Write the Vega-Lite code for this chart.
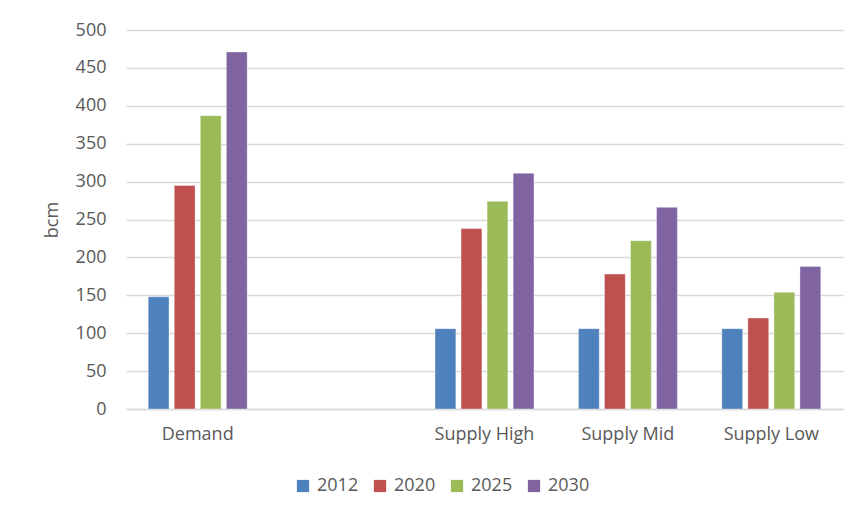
{
  "$schema": "https://vega.github.io/schema/vega-lite/v6.json",
  "autosize": {"type": "none"},
  "width": 717,
  "height": 379,
  "padding": {"left": 126, "top": 30, "right": 15, "bottom": 108},
  "background": "white",
  "data": {
    "values": [
      {"category": "Demand", "year": "2012", "bcm": 148},
      {"category": "Demand", "year": "2020", "bcm": 295},
      {"category": "Demand", "year": "2025", "bcm": 387},
      {"category": "Demand", "year": "2030", "bcm": 471},
      {"category": "Supply High", "year": "2012", "bcm": 106},
      {"category": "Supply High", "year": "2020", "bcm": 238},
      {"category": "Supply High", "year": "2025", "bcm": 274},
      {"category": "Supply High", "year": "2030", "bcm": 311},
      {"category": "Supply Mid", "year": "2012", "bcm": 106},
      {"category": "Supply Mid", "year": "2020", "bcm": 178},
      {"category": "Supply Mid", "year": "2025", "bcm": 222},
      {"category": "Supply Mid", "year": "2030", "bcm": 266},
      {"category": "Supply Low", "year": "2012", "bcm": 106},
      {"category": "Supply Low", "year": "2020", "bcm": 120},
      {"category": "Supply Low", "year": "2025", "bcm": 154},
      {"category": "Supply Low", "year": "2030", "bcm": 188}
    ]
  },
  "mark": {"type": "bar", "stroke": "white", "strokeWidth": 0.6, "strokeOpacity": 0.6},
  "encoding": {
    "x": {
      "field": "category",
      "type": "nominal",
      "scale": {"domain": ["Demand", " ", "Supply High", "Supply Mid", "Supply Low"], "paddingInner": 0.31, "paddingOuter": 0.155},
      "axis": {
        "title": null,
        "labelAngle": 0,
        "ticks": false,
        "domain": true,
        "domainColor": "#d9d9d9",
        "domainWidth": 1.5,
        "labelFont": "Open Sans",
        "labelFontSize": 18,
        "labelColor": "#595959",
        "labelPadding": 16
      }
    },
    "xOffset": {
      "field": "year",
      "type": "nominal",
      "scale": {"paddingInner": 0.2, "paddingOuter": 0}
    },
    "y": {
      "field": "bcm",
      "type": "quantitative",
      "scale": {"domain": [0, 500]},
      "axis": {
        "title": "bcm",
        "titleFont": "Open Sans",
        "titleFontSize": 18,
        "titleFontWeight": "normal",
        "titleColor": "#595959",
        "titlePadding": 14,
        "values": [0, 50, 100, 150, 200, 250, 300, 350, 400, 450, 500],
        "ticks": false,
        "domain": false,
        "gridColor": "#d9d9d9",
        "gridWidth": 1.5,
        "labelFont": "Open Sans",
        "labelFontSize": 18,
        "labelColor": "#595959",
        "labelPadding": 20
      }
    },
    "color": {
      "field": "year",
      "type": "nominal",
      "scale": {"domain": ["2012", "2020", "2025", "2030"], "range": ["#4f81bd", "#c0504d", "#9bbb59", "#8064a2"]},
      "legend": {
        "title": null,
        "orient": "none",
        "direction": "horizontal",
        "legendX": 168,
        "legendY": 447,
        "symbolType": "square",
        "symbolSize": 150,
        "symbolStrokeWidth": 0,
        "labelFont": "Open Sans",
        "labelFontSize": 18,
        "labelColor": "#595959",
        "columnPadding": 12,
        "labelOffset": 5
      }
    }
  },
  "config": {"view": {"stroke": null}}
}
